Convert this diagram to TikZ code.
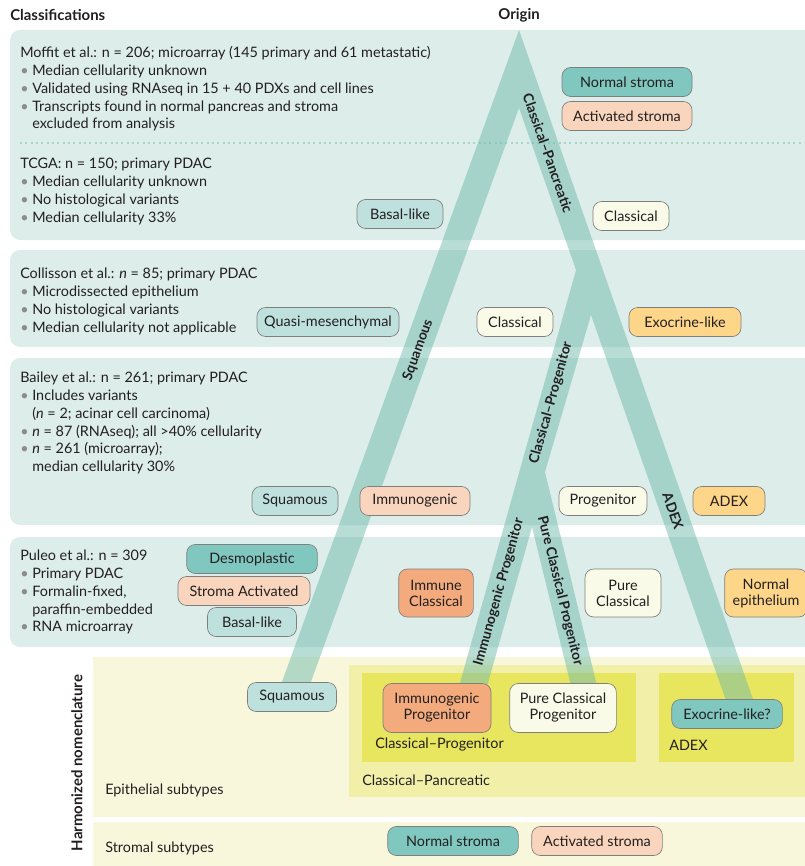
\documentclass[tikz,border=0pt]{standalone}
\usepackage{fontspec}
\setmainfont{Lato}
\usetikzlibrary{positioning}

\definecolor{bandbg}{HTML}{DDEDEA}
\definecolor{barcol}{HTML}{6FBBAC}
\definecolor{dotcol}{HTML}{A8D5CC}
\definecolor{harmbg}{HTML}{F8F7DC}
\definecolor{panbg}{HTML}{F2F0A8}
\definecolor{progbg}{HTML}{E8E65E}
\definecolor{edgegray}{HTML}{7F7F7F}
\definecolor{bulgray}{HTML}{8C8C8C}
\definecolor{inkcol}{HTML}{231F20}
\definecolor{cteal}{HTML}{80C7BF}
\definecolor{clteal}{HTML}{BEE1DD}
\definecolor{cpeach}{HTML}{F9D5BD}
\definecolor{ccream}{HTML}{FAFAE8}
\definecolor{cgold}{HTML}{FDD68A}
\definecolor{corange}{HTML}{F3AB7E}

\newcommand\itembul{{\color{bulgray}\textbullet}\ }
\newcommand\itemgap{\phantom{\textbullet\ }}

\begin{document}
\begin{tikzpicture}[x=0.75pt,y=-0.75pt,text=inkcol,
    head/.style={inner sep=0pt,font=\bfseries\fontsize{11.2}{13}\selectfont},
    info/.style={anchor=north west,align=left,inner sep=0pt,font=\fontsize{10.8}{13.35}\selectfont},
    lab/.style={anchor=west,inner sep=0pt,font=\fontsize{10.8}{12}\selectfont},
    branch/.style={inner sep=0pt,font=\bfseries\fontsize{10.4}{12}\selectfont},
    sub/.style={draw=edgegray,line width=0.5pt,rounded corners=6.5pt,minimum height=21.75pt,
      inner sep=0pt,align=center,font=\fontsize{10.8}{12}\selectfont},
    band/.style={fill=bandbg,rounded corners=7.5pt},
    bar/.style={fill=barcol,fill opacity=0.5}]
  \useasboundingbox (0,0) rectangle (804,866);

  % classification bands
  \fill[band] (10,30) rectangle (830,240);
  \fill[band] (10,250) rectangle (830,347);
  \fill[band] (10,358) rectangle (830,525);
  \fill[band] (10,537) rectangle (830,647);
  \draw[dotcol,line width=1.6pt,dash pattern=on 1.6pt off 2.4pt] (20,143) -- (804,143);

  % harmonized nomenclature
  \fill[harmbg] (93,657) rectangle (830,817);
  \fill[harmbg] (93,822) rectangle (830,880);
  \fill[panbg] (349,665) rectangle (830,797);
  \fill[progbg] (362,673) rectangle (636,762);
  \fill[progbg] (659,673) rectangle (794,762);

  % headings
  \node[head,anchor=west] (classif) at (10,15) {Classifications};
  \node[head] (origin) at (519,15) {Origin};
  \node[head,rotate=90] (harmon) at (77,763) {Harmonized nomenclature};

  % study descriptions
  \node[info] (moffit) at (20,45) {\strut Moffit et al.: n = 206; microarray (145 primary and 61 metastatic)\\
    \itembul Median cellularity unknown\\
    \itembul Validated using RNAseq in 15 + 40 PDXs and cell lines\\
    \itembul Transcripts found in normal pancreas and stroma\\
    \itemgap excluded from analysis};
  \node[info] (tcga) at (20,156) {\strut TCGA: n = 150; primary PDAC\\
    \itembul Median cellularity unknown\\
    \itembul No histological variants\\
    \itembul Median cellularity 33\%};
  \node[info] (collisson) at (20,266) {\strut Collisson et al.: \textit{n} = 85; primary PDAC\\
    \itembul Microdissected epithelium\\
    \itembul No histological variants\\
    \itembul Median cellularity not applicable};
  \node[info] (bailey) at (20,370) {\strut Bailey et al.: n = 261; primary PDAC\\
    \itembul Includes variants\\
    \itemgap (\textit{n} = 2; acinar cell carcinoma)\\
    \itembul \textit{n} = 87 (RNAseq); all >40\% cellularity\\
    \itembul \textit{n} = 261 (microarray);\\
    \itemgap median cellularity 30\%};
  \node[info] (puleo) at (20,548) {\strut Puleo et al.: n = 309\\
    \itembul Primary PDAC\\
    \itembul Formalin-fixed,\\
    \itemgap paraffin-embedded\\
    \itembul RNA microarray};

  % lineage tree
  \fill[bar] (519,30) -- (755,705) -- (727.5,705) -- (591,315) -- (545,472) -- (598,690)
    -- (572,690) -- (532,527) -- (486,690) -- (458,690) -- (576,270) -- (519,108)
    -- (308,690) -- (279,690) -- cycle;
  \node[branch,rotate=70] (brsq) at (418,350) {Squamous};
  \node[branch,rotate=-70.7] (brcp) at (548,153) {Classical–Pancreatic};
  \node[branch,rotate=74.3] (brprog) at (551,403) {Classical–Progenitor};
  \node[branch,rotate=-70.7] (bradex) at (673,511) {ADEX};
  \node[branch,rotate=74.3] (brimm) at (499,592) {Immunogenic Progenitor};
  \node[branch,rotate=-76.2] (brpure) at (560,591) {Pure Classical Progenitor};

  % Moffit and TCGA subtypes
  \node[sub,fill=cteal,minimum width=97.5pt] (mnorm) at (627,82) {Normal stroma};
  \node[sub,fill=cpeach,minimum width=97.5pt] (mact) at (627,116) {Activated stroma};
  \node[sub,fill=clteal,minimum width=64.5pt] (tbasal) at (400,214) {Basal-like};
  \node[sub,fill=ccream,minimum width=57pt] (tclass) at (631,216) {Classical};
  % Collisson subtypes
  \node[sub,fill=clteal,minimum width=106.5pt] (cquasi) at (328,322) {Quasi-mesenchymal};
  \node[sub,fill=ccream,minimum width=57pt] (cclass) at (515,322) {Classical};
  \node[sub,fill=cgold,minimum width=84pt] (cexo) at (685,322) {Exocrine-like};
  % Bailey subtypes
  \node[sub,fill=clteal,minimum width=64.5pt] (bsq) at (295,501) {Squamous};
  \node[sub,fill=cpeach,minimum width=82.5pt] (bimm) at (415,501) {Immunogenic};
  \node[sub,fill=ccream,minimum width=66pt] (bprog) at (603,501) {Progenitor};
  \node[sub,fill=cgold,minimum width=54pt] (badex) at (729,501) {ADEX};
  % Puleo subtypes
  \node[sub,fill=cteal,minimum width=98pt] (pdesmo) at (252,559) {Desmoplastic};
  \node[sub,fill=cpeach,minimum width=99pt] (pstroma) at (244,591) {Stroma Activated};
  \node[sub,fill=clteal,minimum width=66.75pt] (pbasal) at (252,622) {Basal-like};
  \node[sub,fill=corange,minimum width=56pt,minimum height=36pt] (pimm) at (436,593) {Immune\\Classical};
  \node[sub,fill=ccream,minimum width=57pt,minimum height=36pt] (ppure) at (623,593) {Pure\\Classical};
  \node[sub,fill=cgold,minimum width=62pt,minimum height=36pt] (pnorm) at (766,593) {Normal\\epithelium};

  % harmonized subtypes
  \node[sub,fill=clteal,minimum width=66.75pt] (hsq) at (292,697) {Squamous};
  \node[sub,fill=corange,minimum width=81pt,minimum height=36.75pt] (himm) at (437,708) {Immunogenic\\Progenitor};
  \node[sub,fill=ccream,minimum width=80pt,minimum height=36.75pt] (hpure) at (563,708) {Pure Classical\\Progenitor};
  \node[sub,fill=cteal,minimum width=83pt] (hexo) at (727,714) {Exocrine-like?};
  \node[lab] (lprog) at (375,745) {Classical–Progenitor};
  \node[lab] (ladex) at (669,745) {ADEX};
  \node[lab] (lpanc) at (362,780) {Classical–Pancreatic};
  \node[lab] (lepi) at (105,790) {Epithelial subtypes};
  \node[lab] (lstrom) at (105,848) {Stromal subtypes};
  \node[sub,fill=cteal,minimum width=98pt] (hnorm) at (453,841) {Normal stroma};
  \node[sub,fill=cpeach,minimum width=98pt] (hact) at (597,841) {Activated stroma};
\end{tikzpicture}
\end{document}
